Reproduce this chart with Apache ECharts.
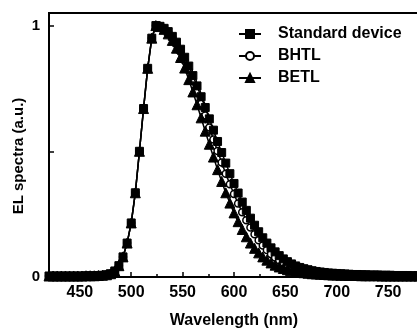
<!DOCTYPE html>
<html><head><meta charset="utf-8">
<script src="https://cdn.jsdelivr.net/npm/echarts@6/dist/echarts.min.js"></script>
<style>html,body{margin:0;padding:0;background:#fff}#c{width:417px;height:328px}</style>
</head><body><div id="c"></div>
<script>
var wavelengths = [420,424,428,432,436,440,444,448,452,456,460,464,468,472,476,480,484,488,492,496,500,504,508,512,516,520,524,
528,532,536,540,544,548,552,556,560,564,568,572,576,580,584,588,592,596,600,604,608,612,616,620,624,628,632,636,640,644,
648,652,656,660,664,668,672,676,680,684,688,692,696,700,704,708,712,716,720,724,728,732,736,740,744,748,752,756,760,764,768,772,776,780];

var standardDevice = [0.004,0.004,0.004,0.004,0.004,0.004,0.004,0.004,0.004,0.005,0.005,0.005,0.006,0.007,0.009,0.013,0.024,0.045,0.08,0.135,0.215,0.335,0.5,0.67,0.83,0.95,1.0,
0.997,0.989,0.976,0.957,0.934,0.906,0.874,0.839,0.801,0.760,
0.717,0.674,0.629,0.584,0.539,0.495,0.453,0.411,0.372,0.334,
0.298,0.265,0.234,0.206,0.180,0.156,0.135,0.116,0.100,0.085,
0.072,0.061,0.052,0.044,0.038,0.033,0.029,0.025,0.022,0.020,
0.018,0.016,0.015,0.014,0.013,0.012,0.011,0.010,0.010,0.009,
0.009,0.008,0.008,0.008,0.007,0.007,0.007,0.006,0.006,0.006,
0.006,0.005,0.005,0.005];

var bhtl = [0.004,0.004,0.004,0.004,0.004,0.004,0.004,0.004,0.004,0.005,0.005,0.005,0.006,0.007,0.009,0.013,0.024,0.045,0.08,0.135,0.215,0.335,0.5,0.67,0.83,0.95,1.0,
0.997,0.988,0.973,0.952,0.926,0.895,0.860,0.821,0.779,0.735,
0.689,0.642,0.595,0.547,0.501,0.455,0.411,0.369,0.330,0.292,
0.258,0.226,0.197,0.170,0.146,0.125,0.107,0.091,0.078,0.067,
0.058,0.050,0.043,0.037,0.032,0.028,0.024,0.021,0.018,0.016,
0.014,0.013,0.012,0.011,0.010,0.009,0.009,0.008,0.008,0.007,
0.007,0.007,0.006,0.006,0.006,0.006,0.005,0.005,0.005,0.005,
0.005,0.004,0.004,0.004];

var betl = [0.004,0.004,0.004,0.004,0.004,0.004,0.004,0.004,0.004,0.005,0.005,0.005,0.006,0.007,0.009,0.013,0.024,0.045,0.08,0.135,0.215,0.335,0.5,0.67,0.83,0.95,1.0,
0.996,0.985,0.967,0.941,0.910,0.873,0.831,0.785,0.736,0.685,
0.633,0.580,0.528,0.477,0.427,0.380,0.335,0.294,0.255,0.220,
0.189,0.160,0.135,0.114,0.096,0.080,0.067,0.056,0.047,0.040,
0.034,0.029,0.025,0.022,0.019,0.017,0.015,0.013,0.012,0.011,
0.010,0.009,0.008,0.008,0.007,0.007,0.006,0.006,0.006,0.005,
0.005,0.005,0.005,0.005,0.004,0.004,0.004,0.004,0.004,0.004,
0.004,0.004,0.004,0.004];

var xMajorTicks = [450,500,550,600,650,700,750];
var xMinorTicks = [475,525,575,625,675,725,775];
var yTicks = [0,0.5,1];
var yLabels = [0,1];

function pairs(ys){ return wavelengths.map(function(x,i){ return [x, ys[i]]; }); }

var FONT = 'Liberation Sans';
var chart = echarts.init(document.getElementById('c'), null, {renderer:'canvas'});
var common = {type:'line', showSymbol:true, symbolKeepAspect:true, animation:false,
  lineStyle:{color:'#000', width:1.5}, itemStyle:{color:'#000', borderColor:'#000', borderWidth:1}};
chart.setOption({
  animation:false,
  grid:{left:49, top:13, width:370, bottom:51, containLabel:false, outerBoundsMode:'none',
    show:true, borderColor:'#000', borderWidth:2, backgroundColor:'transparent'},
  legend:{
    data:['Standard device','BHTL','BETL'],
    orient:'vertical', left:233, top:21,
    itemWidth:22, itemHeight:10, itemGap:6,
    textStyle:{fontFamily:FONT, fontWeight:'bold', fontSize:16, color:'#000', lineHeight:16, padding:[0,0,0,12]}
  },
  xAxis:[{
    type:'value', min:420, max:780, position:'bottom',
    name:'Wavelength (nm)', nameLocation:'middle', nameGap:36, nameMoveOverlap:false,
    nameTextStyle:{fontFamily:FONT, fontWeight:'bold', fontSize:16, color:'#000'},
    axisLine:{lineStyle:{color:'#000', width:2}},
    axisTick:{inside:true, length:5, lineStyle:{color:'#000', width:1.5}, customValues:xMajorTicks},
    axisLabel:{customValues:xMajorTicks, fontFamily:FONT, fontWeight:'bold', fontSize:16, color:'#000', margin:8},
    splitLine:{show:false}
  },{
    type:'value', min:420, max:780, position:'bottom',
    axisLine:{show:false},
    axisTick:{inside:true, length:3, lineStyle:{color:'#000', width:1.5}, customValues:xMinorTicks},
    axisLabel:{show:false}, splitLine:{show:false}
  }],
  yAxis:{
    type:'value', min:0, max:1.05,
    name:'EL spectra (a.u.)', nameLocation:'middle', nameGap:23, nameRotate:90, nameMoveOverlap:false,
    nameTextStyle:{fontFamily:FONT, fontWeight:'bold', fontSize:15, color:'#000', padding:[0,22,0,0]},
    axisLine:{lineStyle:{color:'#000', width:2}},
    axisTick:{inside:true, length:5, lineStyle:{color:'#000', width:1.5}, customValues:yTicks},
    axisLabel:{customValues:yLabels, fontFamily:FONT, fontWeight:'bold', fontSize:15, color:'#000', margin:9},
    splitLine:{show:false}
  },
  series:[
    Object.assign({}, common, {name:'BHTL', symbol:'circle', symbolSize:7, data:pairs(bhtl), z:2,
      itemStyle:{color:'#fff', borderColor:'#000', borderWidth:1.5}}),
    Object.assign({}, common, {name:'Standard device', symbol:'rect', symbolSize:8, data:pairs(standardDevice), z:3}),
    Object.assign({}, common, {name:'BETL', symbol:'triangle', symbolSize:10, data:pairs(betl), z:4})
  ]
});
</script></body></html>
